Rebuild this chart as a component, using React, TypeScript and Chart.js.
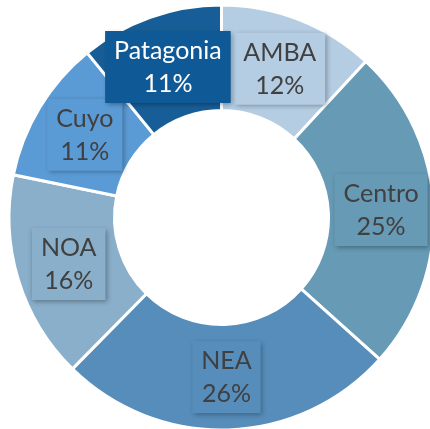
import React, { useEffect, useRef } from "react";
import { Chart, registerables } from "chart.js";

Chart.register(...registerables);

const regions = ["AMBA", "Centro", "NEA", "NOA", "Cuyo", "Patagonia"];
const shares = [12, 25, 26, 16, 11, 11];
const sliceColors = ["#b4cde2", "#669ab5", "#568dba", "#8aafcb", "#5b9bd5", "#175e98"];
const labelTextColors = ["#404040", "#404040", "#404040", "#404040", "#404040", "#ffffff"];

const FONT = "25px Lato, 'Noto Sans', sans-serif";

const labelPlugin = {
  id: "boxLabels",
  afterDatasetsDraw(chart: any) {
    const ctx = chart.ctx as CanvasRenderingContext2D;
    const meta = chart.getDatasetMeta(0);
    ctx.save();
    ctx.font = FONT;
    ctx.textAlign = "center";
    ctx.textBaseline = "middle";
    meta.data.forEach((arc: any, i: number) => {
      const p = arc.getCenterPoint();
      const l1 = regions[i];
      const l2 = `${shares[i]}%`;
      const w = Math.max(ctx.measureText(l1).width, ctx.measureText(l2).width) + 18;
      const h = 72;
      ctx.save();
      ctx.shadowColor = "rgba(0,0,0,0.35)";
      ctx.shadowBlur = 5;
      ctx.shadowOffsetX = 1.5;
      ctx.shadowOffsetY = 1.5;
      ctx.fillStyle = i === 5 ? "#0f5a96" : sliceColors[i];
      ctx.fillRect(p.x - w / 2, p.y - h / 2, w, h);
      ctx.restore();
      ctx.fillStyle = labelTextColors[i];
      ctx.fillText(l1, p.x, p.y - 16);
      ctx.fillText(l2, p.x, p.y + 17);
    });
    ctx.restore();
  },
};

export default function App() {
  const ref = useRef<HTMLCanvasElement>(null);
  useEffect(() => {
    if (!ref.current) return;
    const chart = new Chart(ref.current, {
      type: "doughnut",
      data: {
        labels: regions,
        datasets: [
          {
            data: shares,
            backgroundColor: sliceColors,
            borderColor: "#ffffff",
            borderWidth: 3,
          },
        ],
      },
      options: {
        responsive: false,
        animation: false,
        radius: 212.5,
        cutout: "50.35%",
        layout: { padding: { left: 13, right: 0, top: 6, bottom: 0 } },
        plugins: { legend: { display: false }, tooltip: { enabled: false } },
      } as any,
      plugins: [labelPlugin],
    });
    return () => chart.destroy();
  }, []);
  return (
    <div style={{ position: "fixed", left: 0, top: 0, width: 430, height: 429, background: "#fff" }}>
      <canvas ref={ref} width={430} height={429} style={{ display: "block" }} />
    </div>
  );
}
